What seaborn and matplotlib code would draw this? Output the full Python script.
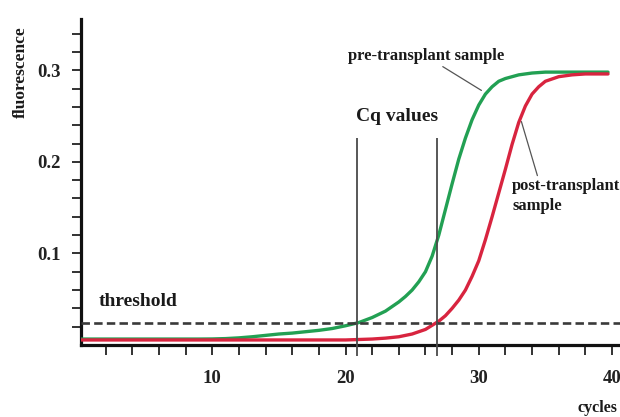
import matplotlib
matplotlib.use("Agg")
import matplotlib.pyplot as plt
import seaborn as sns
import pandas as pd

# ---- data ----
pre_cycles = [0, 1, 2, 3, 4, 5, 6, 7, 8, 9, 10, 11, 12, 13, 14, 15, 16, 17, 18, 19,
              20, 21, 22, 23, 24, 24.5, 25, 25.5, 26, 26.5, 27, 27.5, 28, 28.5, 29,
              29.5, 30, 30.5, 31, 31.5, 32, 33, 34, 35, 36, 37, 38, 39, 39.7]
pre_fluor = [0.0065, 0.0065, 0.0065, 0.0065, 0.0065, 0.0065, 0.0065, 0.0065, 0.0065,
             0.0065, 0.0066, 0.007, 0.0078, 0.009, 0.0105, 0.012, 0.013, 0.0145, 0.016,
             0.018, 0.021, 0.0245, 0.030, 0.037, 0.047, 0.053, 0.060, 0.069, 0.080,
             0.097, 0.120, 0.148, 0.176, 0.203, 0.226, 0.246, 0.262, 0.274, 0.282,
             0.288, 0.291, 0.295, 0.297, 0.298, 0.298, 0.298, 0.298, 0.298, 0.298]

post_cycles = [0, 2, 4, 6, 8, 10, 12, 14, 16, 18, 20, 21, 22, 23, 24, 25, 26, 27, 27.5,
               28, 28.5, 29, 29.5, 30, 30.5, 31, 31.5, 32, 32.5, 33, 33.5, 34, 34.5,
               35, 36, 37, 38, 39, 39.7]
post_fluor = [0.0055, 0.0055, 0.0055, 0.0055, 0.0055, 0.0055, 0.0055, 0.0055, 0.0055,
              0.0055, 0.0055, 0.006, 0.0065, 0.0075, 0.009, 0.012, 0.017, 0.026, 0.032,
              0.040, 0.049, 0.060, 0.075, 0.092, 0.115, 0.140, 0.166, 0.192, 0.219,
              0.243, 0.261, 0.274, 0.282, 0.288, 0.293, 0.295, 0.296, 0.296, 0.296]

threshold = 0.024
cq_values = [20.85, 26.85]

x_major = [10, 20, 30, 40]
y_major = [0.1, 0.2, 0.3]

# ---- styling ----
sns.set_style("ticks")
plt.rcParams["font.family"] = ["Liberation Serif", "DejaVu Serif"]
plt.rcParams["font.weight"] = "bold"

GREEN = "#22a053"
RED = "#d8243f"

fig = plt.figure(figsize=(6.2, 4.17), dpi=100)
ax = fig.add_axes([81 / 620, 1 - 345 / 417, 1 - 81 / 620, (345 - 19) / 417])

pre_df = pd.DataFrame({"cycle": pre_cycles, "fluorescence": pre_fluor})
post_df = pd.DataFrame({"cycle": post_cycles, "fluorescence": post_fluor})

sns.lineplot(data=pre_df, x="cycle", y="fluorescence", ax=ax, color=GREEN,
             linewidth=2.4, zorder=3)
sns.lineplot(data=post_df, x="cycle", y="fluorescence", ax=ax, color=RED,
             linewidth=2.4, zorder=3)

# threshold line
ax.axhline(threshold, color="#3a3a3a", linewidth=1.9, dashes=(3.2, 1.6), zorder=4)

# Cq vertical lines
ax.vlines(cq_values, -0.012, 0.226, color="#4a4a4a", linewidth=1.3, zorder=5,
          clip_on=False)

ax.set_xlim(0.15, 40.6)
ax.set_ylim(0, 0.356)

ax.set_xticks(list(range(2, 41, 2)))
ax.set_xticklabels([str(v) if v in x_major else "" for v in range(2, 41, 2)])
ax.set_yticks([round(0.02 * i, 2) for i in range(1, 18)])
ax.set_yticklabels([f"{0.02 * i:.1f}" if round(0.02 * i, 2) in y_major else ""
                    for i in range(1, 18)])

ax.tick_params(axis="x", direction="out", length=7, width=1.3, pad=11,
               labelsize=13.5, color="#222222")
ax.tick_params(axis="y", direction="out", length=6.5, width=1.3, pad=8,
               labelsize=13.5, color="#222222")
for lab in ax.get_xticklabels() + ax.get_yticklabels():
    lab.set_fontweight("bold")
    lab.set_color("#222222")

ax.set_xlabel("")
ax.set_ylabel("")
for side in ["top", "right"]:
    ax.spines[side].set_visible(False)
ax.spines["left"].set_linewidth(2.3)
ax.spines["bottom"].set_linewidth(2.3)
ax.spines["left"].set_color("#111111")
ax.spines["bottom"].set_color("#111111")

# annotations
txt = dict(fontweight="bold", color="#1a1a1a")
ax.text(1.45, 0.047, "threshold", fontsize=14, ha="left", va="center", **txt)
ax.text(20.8, 0.250, "Cq values", fontsize=14, ha="left", va="center", **txt)
ax.text(20.2, 0.316, "pre-transplant sample", fontsize=12, ha="left", va="center", **txt)
ax.text(32.5, 0.163, "post-transplant\nsample", fontsize=12, ha="left", va="center",
        linespacing=1.3, clip_on=False, **txt)

ax.plot([27.3, 30.2], [0.304, 0.278], color="#555555", linewidth=0.9, zorder=2)
ax.plot([33.2, 34.4], [0.244, 0.185], color="#555555", linewidth=0.9, zorder=2)

fig.text(21 / 620, 1 - 72 / 417, "fluorescence", rotation=90, fontsize=12.5,
         ha="center", va="center", **txt)
fig.text(617 / 620, 1 - 408 / 417, "cycles", fontsize=11.5, ha="right", va="center", **txt)

fig.savefig("out.png", dpi=100)
